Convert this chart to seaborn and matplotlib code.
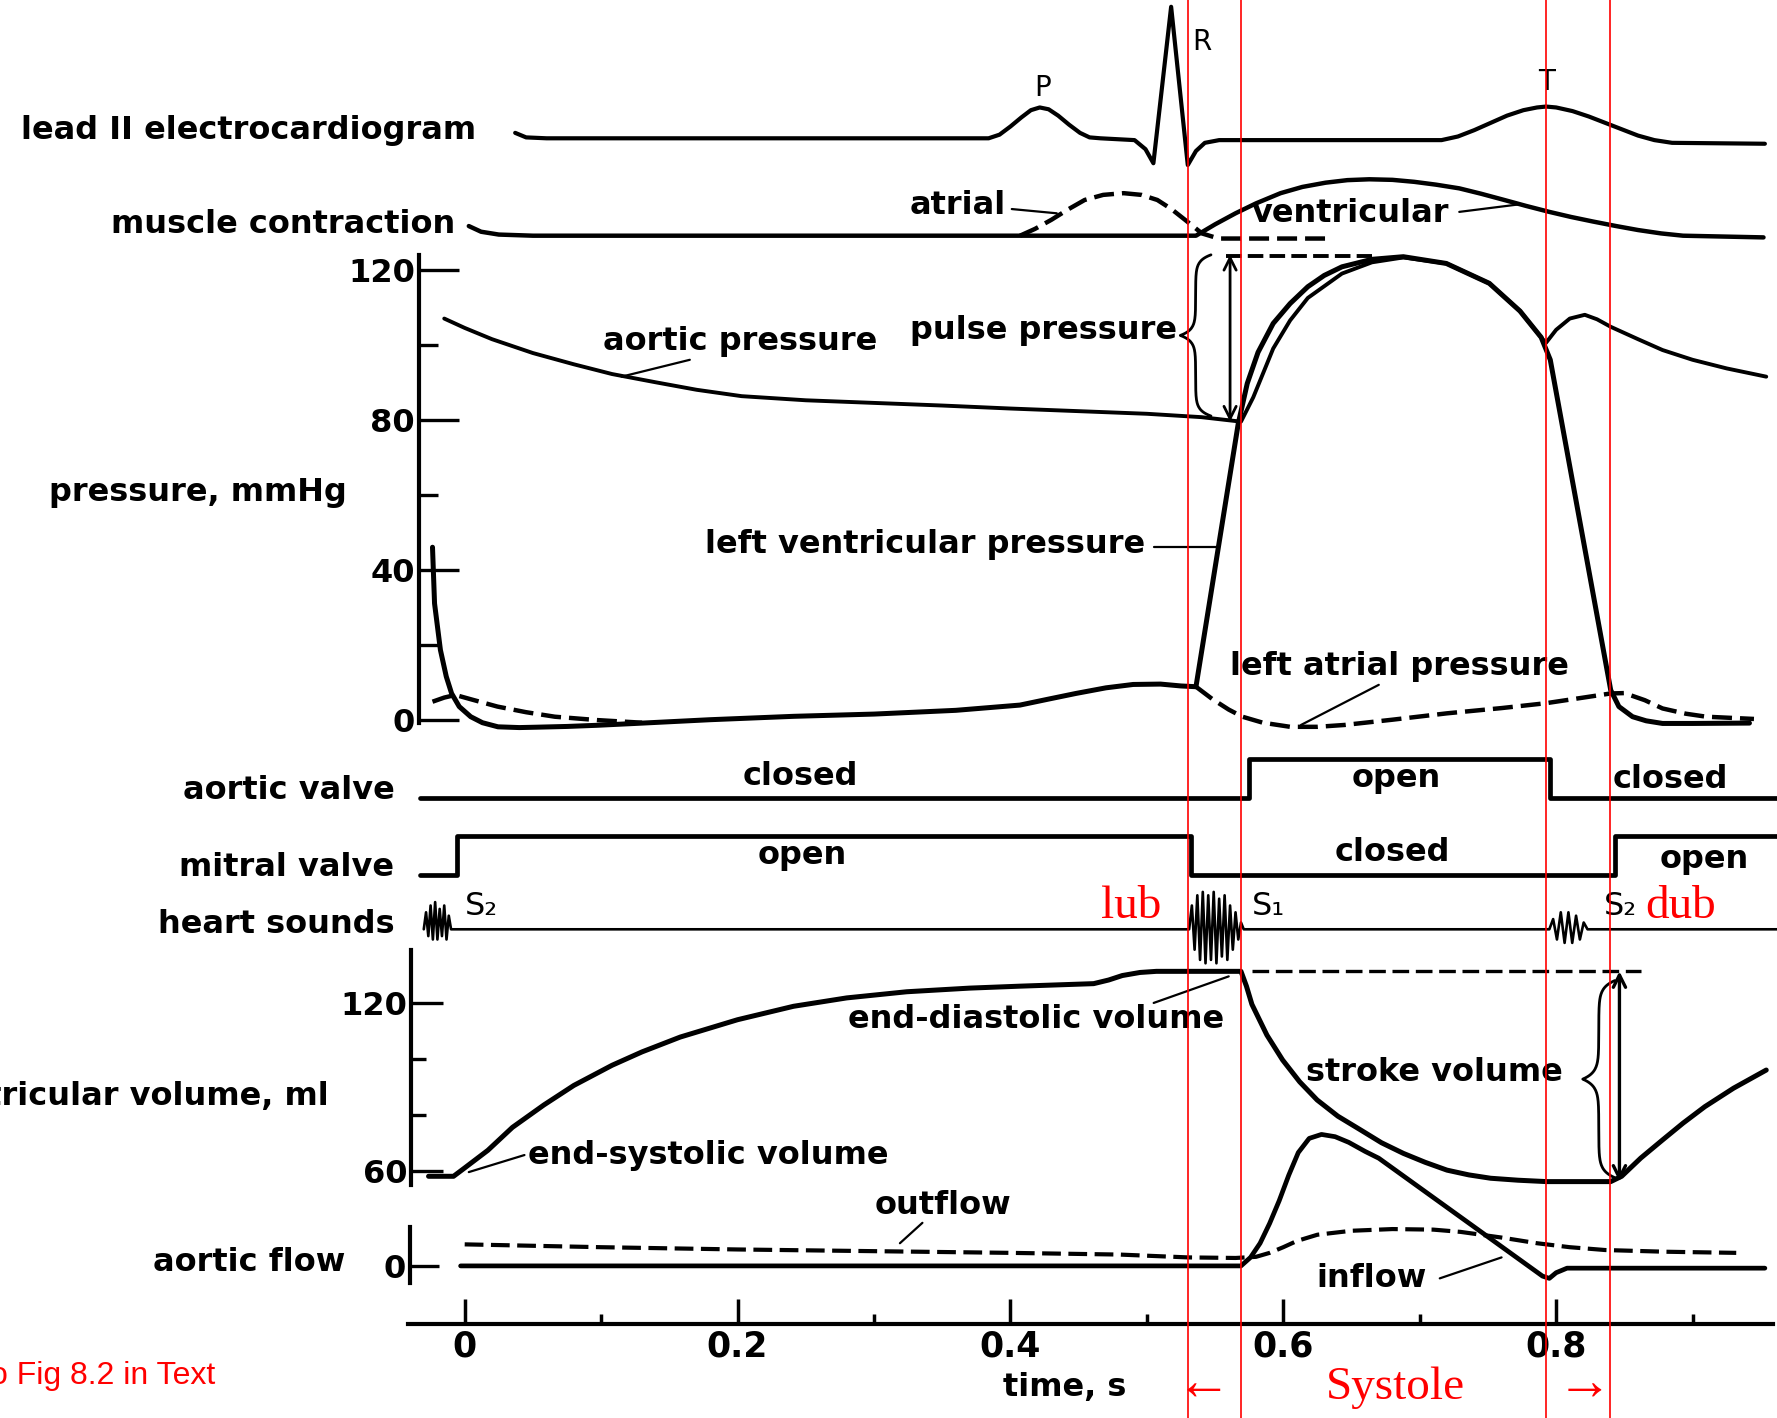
import numpy as np
import matplotlib.pyplot as plt
import seaborn as sns

# ---- values (time in s) ----
# lead II ECG, mV
ecg_t = [0.037, 0.045, 0.06, 0.384, 0.392, 0.400, 0.408, 0.415, 0.4215, 0.428, 0.435, 0.443,
         0.451, 0.458, 0.466, 0.491, 0.499, 0.5048, 0.5178, 0.530, 0.536, 0.5425, 0.553, 0.716,
         0.728, 0.740, 0.752, 0.764, 0.776, 0.786, 0.7926, 0.800, 0.812, 0.824, 0.836, 0.848,
         0.860, 0.872, 0.885, 0.953]
ecg_mv = [0.06, 0.01, 0.0, 0.0, 0.04, 0.13, 0.23, 0.31, 0.34, 0.32, 0.25, 0.15,
          0.06, 0.01, 0.0, -0.02, -0.12, -0.275, 1.45, -0.295, -0.14, -0.05, -0.02, -0.02,
          0.02, 0.09, 0.17, 0.25, 0.31, 0.34, 0.35, 0.34, 0.30, 0.24, 0.17, 0.10,
          0.03, -0.02, -0.05, -0.06]

# muscle contraction, relative force
vent_t = [0.003, 0.012, 0.025, 0.05, 0.536, 0.550, 0.565, 0.580, 0.598, 0.614, 0.631, 0.647,
          0.663, 0.680, 0.696, 0.712, 0.729, 0.745, 0.762, 0.778, 0.795, 0.811, 0.827, 0.844,
          0.860, 0.877, 0.893, 0.952]
vent_force = [0.17, 0.07, 0.02, 0.0, 0.0, 0.2, 0.395, 0.57, 0.75, 0.86, 0.935, 0.98,
              0.995, 0.985, 0.95, 0.90, 0.835, 0.74, 0.63, 0.525, 0.42, 0.33, 0.25, 0.17,
              0.10, 0.04, 0.0, -0.03]
atrial_t = [0.407, 0.418, 0.430, 0.442, 0.4544, 0.468, 0.483, 0.496, 0.5077, 0.518, 0.528,
            0.5404, 0.5527, 0.6306]
atrial_force = [0.0, 0.12, 0.28, 0.46, 0.63, 0.72, 0.75, 0.72, 0.63, 0.47, 0.28, 0.04, -0.05, -0.05]

# pressures, mmHg
aortic_t = [-0.015, 0.0, 0.02, 0.05, 0.08, 0.108, 0.14, 0.17, 0.203, 0.25, 0.30, 0.35, 0.40,
            0.45, 0.50, 0.54, 0.569, 0.578, 0.587, 0.5926, 0.605, 0.618, 0.643, 0.665, 0.688,
            0.7195, 0.751, 0.7735, 0.789, 0.7925, 0.800, 0.810, 0.821, 0.830, 0.840, 0.860,
            0.878, 0.900, 0.925, 0.954]
aortic_p = [107, 104.5, 101.5, 97.8, 94.8, 92.2, 90.0, 88.0, 86.3, 85.2, 84.5, 83.8, 83.0,
            82.3, 81.6, 80.7, 79.5, 86, 94, 99, 106.5, 112.5, 119, 122, 123.3,
            121.7, 116.4, 109, 102, 100.5, 104, 107, 108, 106.8, 104.8, 101.5,
            98.6, 96, 93.7, 91.5]
lv_t = [-0.0236, -0.0221, -0.0178, -0.0135, -0.0096, -0.004, 0.0044, 0.013, 0.0244, 0.04,
        0.0525, 0.075, 0.0965, 0.125, 0.18, 0.241, 0.30, 0.36, 0.407, 0.428, 0.448, 0.47,
        0.49, 0.51, 0.525, 0.536, 0.567, 0.5736, 0.5815, 0.5926, 0.605, 0.618, 0.630, 0.643,
        0.665, 0.688, 0.7195, 0.751, 0.7735, 0.789, 0.7957, 0.840, 0.846, 0.856, 0.866,
        0.878, 0.90, 0.9417]
lv_p = [46, 31, 18.6, 11.5, 7, 3.5, 0.8, -0.8, -1.9, -2.1,
        -2, -1.8, -1.5, -1.0, 0.0, 0.9, 1.5, 2.5, 3.9, 5.5, 7, 8.5,
        9.4, 9.5, 9.0, 8.8, 79, 89.7, 98, 105.7, 111, 115.5, 118.5, 120.8,
        122.8, 123.5, 121.7, 116.4, 109, 102, 96, 7.9, 3.5, 0.8, -0.3,
        -1, -1, -0.9]
la_early_t = [-0.0236, -0.015, -0.0068, 0.005, 0.024, 0.045, 0.066, 0.097, 0.13]
la_early_p = [4.8, 5.9, 6.6, 5.4, 3.5, 2.0, 0.8, -0.1, -0.8]
la_late_t = [0.536, 0.548, 0.560, 0.570, 0.585, 0.605, 0.625, 0.645, 0.68, 0.72, 0.76, 0.7925,
             0.82, 0.840, 0.850, 0.865, 0.878, 0.895, 0.910, 0.945]
la_late_p = [8.8, 5.5, 2.7, 0.8, -0.8, -1.9, -1.9, -1.4, 0.0, 1.7, 3.1, 4.4,
             5.9, 7.0, 7.1, 5.2, 3.0, 1.6, 0.8, 0.2]

# valves, 1 = open
aortic_valve_t = [-0.033, 0.575, 0.7955, 0.962]
aortic_valve_open = [0, 1, 0, 0]
mitral_valve_t = [-0.033, -0.006, 0.532, 0.843, 0.962]
mitral_valve_open = [0, 1, 0, 1, 1]

# heart sounds, trace amplitude (arbitrary)
s2_first_amp = [0, 5, -2, 7, -3, 8, -3, 6, -2, 7, -3, 4, 0]
s1_amp = [0, 7, -6, 10, -9, 11, -10, 10, -9, 11, -10, 9, -8, 10, -9, 7, -6, 5, -3, 2, 0]
s2_amp = [0, 3, -3, 5, -4, 5, -4, 4, -3, 2, 0]

# left ventricular volume, ml
vol_t = [-0.0265, -0.0082, 0.0, 0.017, 0.035, 0.058, 0.08, 0.108, 0.13, 0.158, 0.2, 0.241,
         0.28, 0.324, 0.37, 0.407, 0.461, 0.472, 0.482, 0.495, 0.507, 0.569, 0.573, 0.577,
         0.588, 0.5995, 0.612, 0.6248, 0.64, 0.6566, 0.672, 0.688, 0.704, 0.72, 0.736, 0.752,
         0.772, 0.793, 0.840, 0.848, 0.862, 0.878, 0.893, 0.909, 0.93, 0.954]
vol_ml = [58, 58, 61, 67.3, 75.5, 83.5, 90.5, 97.7, 102.5, 107.8, 114, 118.8,
          121.8, 124, 125.3, 126, 126.9, 128.2, 129.8, 130.9, 131.3, 131.3, 126, 119.5,
          108.5, 99.6, 91.8, 85.3, 79.5, 74.6, 70, 66.2, 63, 60.2, 58.5, 57.3,
          56.6, 56.1, 56.1, 58, 64.5, 71, 77, 82.9, 89.5, 96]

# aortic flow (arbitrary units)
inflow_t = [-0.003, 0.569, 0.576, 0.583, 0.590, 0.597, 0.604, 0.611, 0.619, 0.628, 0.638,
            0.648, 0.660, 0.670, 0.790, 0.795, 0.800, 0.808, 0.953]
inflow_v = [0, 0, 1.5, 4, 7.5, 11.5, 16, 20, 22.5, 23.2, 22.8, 21.8, 20.2, 19, -1.8, -2.2,
            -1.2, -0.4, -0.4]
outflow_t = [0.0, 0.1, 0.2, 0.3, 0.4, 0.48, 0.53, 0.565, 0.58, 0.59, 0.60, 0.61, 0.625, 0.65,
             0.68, 0.71, 0.73, 0.76, 0.786, 0.81, 0.836, 0.88, 0.932]
outflow_v = [3.8, 3.3, 2.9, 2.6, 2.3, 2.0, 1.5, 1.4, 1.6, 2.3, 3.3, 4.4, 5.5, 6.2,
             6.5, 6.4, 6.0, 5.0, 4.0, 3.3, 2.8, 2.5, 2.3]

time_ticks = [0, 0.2, 0.4, 0.6, 0.8]
time_labels = ['0', '0.2', '0.4', '0.6', '0.8']
time_minor = [0.1, 0.3, 0.5, 0.7, 0.9]
phase_lines = [0.530, 0.569, 0.7925, 0.8397]

# ---- layout ----
W, H, DPI = 1777, 1418, 100
T0_PX, PX_PER_S = 464.7, 1364.3
XLIM = (-T0_PX / PX_PER_S, (W - T0_PX) / PX_PER_S)

sns.set_style('white')
plt.rcParams['font.family'] = ['DejaVu Sans']
plt.rcParams.update({'text.color': 'black', 'axes.edgecolor': 'black',
                     'xtick.color': 'black', 'ytick.color': 'black',
                     'axes.labelcolor': 'black'})

fig = plt.figure(figsize=(W / DPI, H / DPI), dpi=DPI)
fig.patch.set_facecolor('white')
lims = {}


def layer(name, zero_px, px_per_unit, zero_val=0.0):
    # every panel is a transparent axes over the whole figure, sharing the time scale
    ax = fig.add_axes([0, 0, 1, 1], label=name)
    ax.patch.set_visible(False)
    for sp in ax.spines.values():
        sp.set_visible(False)
    ax.set_xticks([])
    ax.set_yticks([])
    lims[ax] = (zero_val - (H - zero_px) / px_per_unit, zero_val + zero_px / px_per_unit)
    return ax


def line(ax, x, y, lw=3.4, dashed=False, **kw):
    sns.lineplot(x=x, y=y, ax=ax, color='black', lw=lw, sort=False, estimator=None,
                 linestyle=(0, (4.5, 1.8)) if dashed else '-',
                 solid_joinstyle='round', solid_capstyle='round', **kw)


def note(ax, x, y, s, ha='center', size=23, weight='bold', **kw):
    ax.text(x, y, s, ha=ha, va='center', fontsize=size, fontweight=weight, color='black', **kw)


def leader(ax, x, y):
    ax.plot(x, y, color='black', lw=1.6)


def brace(ax, x_tip, x_end, y_lo, y_hi):
    u = np.linspace(0, 1, 80)
    q = np.exp(-(1 - u) / 0.07) - np.exp(-u / 0.07)
    xs = x_tip + (x_end - x_tip) * (0.5 + 0.5 * q)
    ym = (y_lo + y_hi) / 2
    ax.plot(np.r_[xs[::-1], xs], np.r_[ym + (y_hi - ym) * u[::-1], ym - (ym - y_lo) * u],
            color='black', lw=2.0)


def left_axis(ax, x, bounds, major, minor, labels, long_len, short_len):
    sp = ax.spines['left']
    sp.set_visible(True)
    sp.set_color('black')
    sp.set_position(('data', x))
    sp.set_bounds(*bounds)
    sp.set_linewidth(3)
    ax.set_yticks(major, labels=labels, fontsize=23, fontweight='bold')
    ax.set_yticks(minor, minor=True)
    ax.tick_params(axis='y', which='major', direction='in', length=long_len, width=2.4,
                   left=True, pad=3, colors='black')
    ax.tick_params(axis='y', which='minor', direction='in', length=short_len, width=2.4,
                   left=True, colors='black')


# ECG
ecg = layer('ecg', 138.3, 90.7)
line(ecg, ecg_t, ecg_mv, lw=3.0)
note(ecg, 0.0083, 0.09, 'lead II electrocardiogram', ha='right')
note(ecg, 0.4236, 0.55, 'P', size=20, weight='normal')
note(ecg, 0.540, 1.063, 'R', size=20, weight='normal')
note(ecg, 0.793, 0.625, 'T', size=20, weight='normal')

# muscle contraction
mus = layer('muscle', 235.7, 56.7)
line(mus, vent_t, vent_force, lw=3.2)
line(mus, atrial_t, atrial_force, lw=3.2, dashed=True)
note(mus, -0.0066, 0.2, 'muscle contraction', ha='right')
note(mus, 0.397, 0.54, 'atrial', ha='right')
leader(mus, [0.401, 0.434], [0.47, 0.395])
note(mus, 0.577, 0.40, 'ventricular', ha='left')
leader(mus, [0.729, 0.772], [0.42, 0.55])

# pressures
prs = layer('pressure', 719.7, 3.749)
left_axis(prs, -0.0335, (-1, 124), [0, 40, 80, 120], [20, 60, 100],
          ['0', '40', '80', '120'], 29, 14)
line(prs, aortic_t, aortic_p, lw=2.8)
line(prs, lv_t, lv_p, lw=3.6)
line(prs, la_early_t, la_early_p, lw=3.2, dashed=True)
line(prs, la_late_t, la_late_p, lw=3.2, dashed=True)
note(prs, -0.0864, 60.5, 'pressure, mmHg', ha='right')
note(prs, 0.1013, 101, 'aortic pressure', ha='left')
leader(prs, [0.165, 0.115], [96, 91.5])
note(prs, 0.3264, 103.7, 'pulse pressure', ha='left')
brace(prs, 0.5245, 0.547, 81, 124)
prs.annotate('', xy=(0.561, max(lv_p) + 0.5), xytext=(0.561, min(aortic_p[10:20])),
             arrowprops=dict(arrowstyle='<->', lw=2.0, color='black', shrinkA=0, shrinkB=0,
                             mutation_scale=22))
prs.plot([0.558, 0.665], [max(lv_p) + 0.3] * 2, color='black', lw=2.8, ls=(0, (4, 1.6)))
note(prs, 0.176, 46.6, 'left ventricular pressure', ha='left')
leader(prs, [0.505, 0.552], [46, 46])
note(prs, 0.5606, 14.2, 'left atrial pressure', ha='left')
leader(prs, [0.670, 0.613], [9.3, -1.4])

# valves
aov = layer('aortic valve', 797.9, 38.6)
line(aov, aortic_valve_t, aortic_valve_open, lw=3.4, drawstyle='steps-post')
note(aov, -0.0515, 0.18, 'aortic valve', ha='right')
note(aov, 0.246, 0.56, 'closed')
note(aov, 0.683, 0.5, 'open')
note(aov, 0.884, 0.47, 'closed')

mtv = layer('mitral valve', 874.9, 38.6)
line(mtv, mitral_valve_t, mitral_valve_open, lw=3.4, drawstyle='steps-post')
note(mtv, -0.0515, 0.2, 'mitral valve', ha='right')
note(mtv, 0.2475, 0.5, 'open')
note(mtv, 0.68, 0.59, 'closed')
note(mtv, 0.9086, 0.41, 'open')

# heart sounds
hs = layer('heart sounds', 929.3, 3.4)
heart_t = np.concatenate([np.linspace(-0.030, -0.010, len(s2_first_amp)),
                          np.linspace(0.531, 0.571, len(s1_amp)),
                          np.linspace(0.795, 0.823, len(s2_amp)), [0.962]])
heart_v = np.concatenate([s2_first_amp, s1_amp, s2_amp, [0]])
line(hs, heart_t, heart_v, lw=1.9)
note(hs, -0.0515, 1.3, 'heart sounds', ha='right')
note(hs, 0.0, 6.6, 'S\u2082', ha='left', size=23, weight='normal')
note(hs, 0.577, 6.6, 'S\u2081', ha='left', size=23, weight='normal')
note(hs, 0.8347, 6.6, 'S\u2082', ha='left', size=23, weight='normal')
red_serif = ['Liberation Serif', 'DejaVu Serif']
hs.text(0.4888, 6.6, 'lub', ha='center', va='center', fontsize=34, color='red', family=red_serif)
hs.text(0.8654, 6.6, 'dub', ha='left', va='center', fontsize=34, color='red', family=red_serif)

# ventricular volume
vol = layer('volume', 1170.7, 2.796, zero_val=60)
left_axis(vol, -0.039, (55, 139), [60, 120], [80, 100], ['60', '120'], 23, 11)
line(vol, vol_t, vol_ml, lw=3.6)
vol.plot([0.577, 0.862], [max(vol_ml)] * 2, color='black', lw=2.4, ls=(0, (5, 2)))
brace(vol, 0.8195, 0.843, 57.5, 128)
vol.annotate('', xy=(0.8464, max(vol_ml)), xytext=(0.8464, min(vol_ml)),
             arrowprops=dict(arrowstyle='<->', lw=2.4, color='black', shrinkA=0, shrinkB=0,
                             mutation_scale=22))
note(vol, -0.0997, 86.4, 'left ventricular volume, ml', ha='right')
note(vol, 0.2807, 113.9, 'end-diastolic volume', ha='left')
leader(vol, [0.505, 0.560], [120, 129.5])
note(vol, 0.0465, 65.3, 'end-systolic volume', ha='left')
leader(vol, [0.0438, 0.003], [65.6, 59.5])
note(vol, 0.617, 95.3, 'stroke volume', ha='left')

# aortic flow
flw = layer('flow', 1265.9, 5.667)
left_axis(flw, -0.0399, (-3, 6.8), [0], [], ['0'], 21, 0)
line(flw, inflow_t, inflow_v, lw=3.4)
line(flw, outflow_t, outflow_v, lw=3.0, dashed=True)
note(flw, -0.0872, 0.6, 'aortic flow', ha='right')
note(flw, 0.3505, 10.6, 'outflow')
leader(flw, [0.3355, 0.319], [7.6, 4.0])
note(flw, 0.6645, -2.2, 'inflow')
leader(flw, [0.7147, 0.76], [-2.2, 1.5])

# time axis
tim = layer('time', 1323.7, 1.0)
sp = tim.spines['bottom']
sp.set_visible(True)
sp.set_color('black')
sp.set_position(('data', 0))
sp.set_bounds(-0.0415, 0.959)
sp.set_linewidth(3)
tim.set_xticks(time_ticks, labels=time_labels, fontsize=25, fontweight='bold')
tim.set_xticks(time_minor, minor=True)
tim.tick_params(axis='x', which='major', direction='in', length=18, width=2.5, bottom=True,
                pad=4, colors='black')
tim.tick_params(axis='x', which='minor', direction='in', length=7, width=2.5, bottom=True,
                colors='black')
note(tim, 0.44, -64, 'time, s')

# red overlay: systole markers
for t in phase_lines:
    tim.axvline(t, color='red', lw=1.2, zorder=10)
tim.text(0.682, -64, 'Systole', ha='center', va='center', fontsize=34, color='red',
         family=red_serif)
tim.text(0.5415, -62, '\u2190', ha='center', va='center', fontsize=40, color='red',
         family=red_serif)
tim.text(0.821, -62, '\u2192', ha='center', va='center', fontsize=40, color='red',
         family=red_serif)
tim.text(-0.1827, -52, 'Refer to Fig 8.2 in Text', ha='right', va='center', fontsize=23,
         color='red', family=['Liberation Sans', 'DejaVu Sans'])

for ax, (lo, hi) in lims.items():
    ax.set_xlim(XLIM)
    ax.set_ylim(lo, hi)
    ax.set_xlabel('')
    ax.set_ylabel('')

fig.savefig('out.png', dpi=DPI, facecolor='white')
